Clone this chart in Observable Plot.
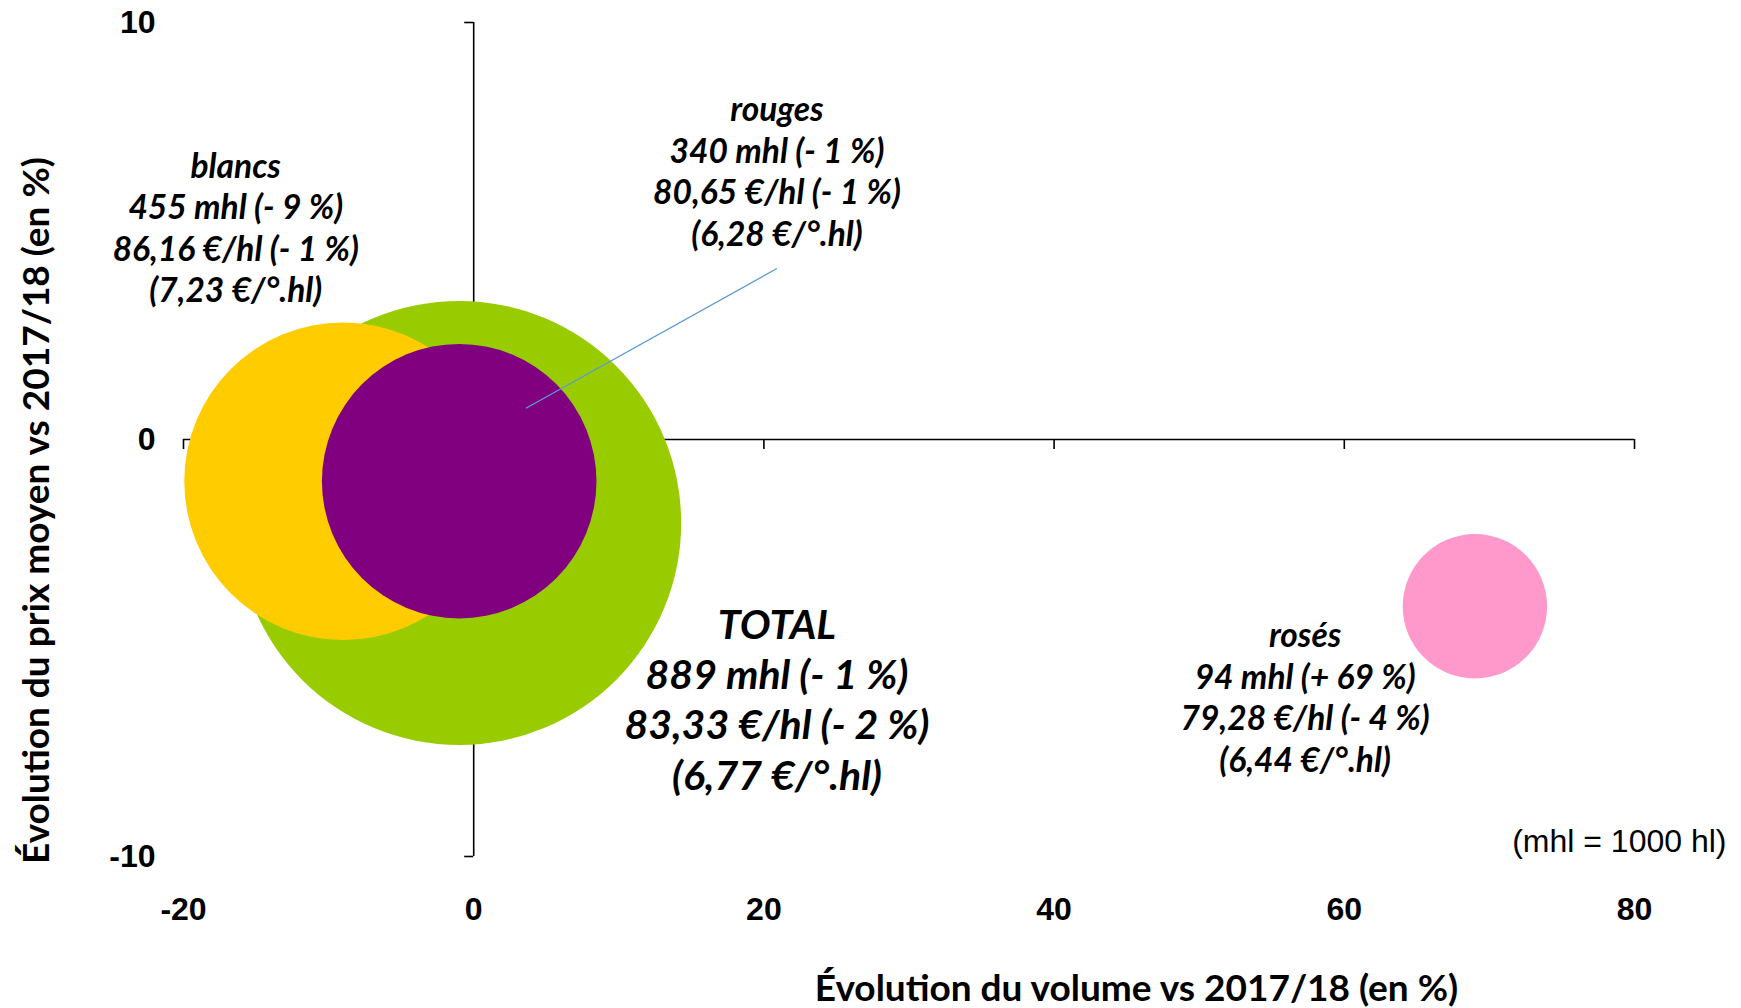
<!DOCTYPE html>
<html><head><meta charset="utf-8">
<script src="https://cdn.jsdelivr.net/npm/d3@7"></script>
<script src="https://cdn.jsdelivr.net/npm/@observablehq/plot@0.6"></script>
<style>
body{margin:0;background:#fff}
#chart{width:1741px;height:1008px}
</style>
</head><body><div id="chart"></div>
<script>
// ---- data ----
const categories   = ["TOTAL", "blancs", "rouges", "rosés"];
const volumeChange = [-1, -9, -1, 69];      // % volume vs 2017/18
const priceChange  = [-2, -1, -1, -4];      // % prix moyen vs 2017/18
const volumeMhl    = [889, 455, 340, 94];   // mhl
const pricePerHl   = ["83,33", "86,16", "80,65", "79,28"];
const pricePerDeg  = ["6,77", "7,23", "6,28", "6,44"];
const volumeLabel  = ["- 1 %", "- 9 %", "- 1 %", "+ 69 %"];
const priceLabel   = ["- 2 %", "- 1 %", "- 1 %", "- 4 %"];
const colors       = ["#99CC00", "#FFCC00", "#800080", "#FF99CC"];
const xTicks = [-20, 0, 20, 40, 60, 80];
const yTicks = [-10, 0, 10];

// annotation anchors (data units)
const labelX = [20.9, -16.4, 20.9, 57.3];
const labelY = [-6.2, 5.1, 6.46, -6.16];
const leaderX = [20.9, 3.6];
const leaderY = [4.1, 0.75];

// ---- layout ----
const W = 1741, H = 1008;
const mL = 183, mR = 107, mT = 22, mB = 152;
const xDom = [-20, 80], yDom = [-10, 10];
const xs = d3.scaleLinear(xDom, [mL, W - mR]);
const ys = d3.scaleLinear(yDom, [H - mB, mT]);
const x0px = xs(0), y0px = ys(0);

const rows = categories.map((c, i) => ({
  cat: c, x: volumeChange[i], y: priceChange[i], vol: volumeMhl[i], color: colors[i],
  text: `${c}\n${volumeMhl[i]} mhl (${volumeLabel[i]})\n${pricePerHl[i]} €/hl (${priceLabel[i]})\n(${pricePerDeg[i]} €/°.hl)`,
  lx: labelX[i], ly: labelY[i], big: c === "TOTAL"
}));

const calib = "Lato, 'Open Sans', sans-serif";
const arial = "'Liberation Sans', Arial, sans-serif";
const fmt = d => String(d);

const plot = Plot.plot({
  width: W, height: H,
  marginLeft: mL, marginRight: mR, marginTop: mT, marginBottom: mB,
  x: {domain: xDom, axis: null},
  y: {domain: yDom, axis: null},
  r: {domain: [0, 889], range: [0, 222]},
  style: {background: "#fff", color: "#000"},
  marks: [
    // axis lines crossing at 0
    Plot.ruleY([0], {x1: xDom[0], x2: xDom[1], stroke: "#000", strokeWidth: 1.6}),
    Plot.ruleX([0], {y1: yDom[0], y2: yDom[1], stroke: "#000", strokeWidth: 1.6}),
    // tick marks on the crossing axes
    Plot.axisX({ticks: xTicks, anchor: "bottom", tickSize: 10, tickFormat: () => "", label: null,
      stroke: "#000", strokeWidth: 1.6, dy: y0px - (H - mB)}),
    Plot.axisY({ticks: yTicks, anchor: "left", tickSize: 9, tickFormat: () => "", label: null,
      stroke: "#000", strokeWidth: 1.6, dx: x0px - mL}),
    // tick labels at the frame edges
    Plot.axisX({ticks: xTicks, anchor: "bottom", tickSize: 0, tickPadding: 41, label: null, tickFormat: fmt,
      fontSize: 32, fontWeight: "bold", fontFamily: arial, fill: "#000"}),
    Plot.axisY({ticks: yTicks, anchor: "left", tickSize: 0, tickPadding: 28, label: null, tickFormat: fmt,
      fontSize: 32, fontWeight: "bold", fontFamily: arial, fill: "#000"}),
    // bubbles
    Plot.dot(rows, {x: "x", y: "y", r: "vol", fill: "color", stroke: "none", fillOpacity: 1}),
    // leader line for rouges
    Plot.link([0], {x1: () => leaderX[0], y1: () => leaderY[0], x2: () => leaderX[1], y2: () => leaderY[1],
      stroke: "#5B9BD5", strokeWidth: 1.3}),
    // annotations
    Plot.text(rows.filter(d => !d.big), {x: "lx", y: "ly", text: "text", lineAnchor: "middle",
      lineHeight: 1.24, fontSize: 33.5, fontWeight: "bold", fontStyle: "italic", fontFamily: calib, fill: "#000"}),
    Plot.text(rows.filter(d => d.big), {x: "lx", y: "ly", text: "text", lineAnchor: "middle",
      lineHeight: 1.23, fontSize: 41, fontWeight: "bold", fontStyle: "italic", fontFamily: calib, fill: "#000"}),
    // axis titles
    Plot.text(["Évolution du volume vs 2017/18 (en %)"], {frameAnchor: "bottom", textAnchor: "middle",
      dx: 1136 - (mL + W - mR) / 2, dy: 133, lineAnchor: "middle", fontSize: 37, fontWeight: "bold",
      fontFamily: calib, fill: "#000"}),
    Plot.text(["Évolution du prix moyen vs 2017/18 (en %)"], {frameAnchor: "left", textAnchor: "middle",
      rotate: -90, dx: 37 - mL, dy: 510 - (mT + H - mB) / 2, lineAnchor: "middle", fontSize: 37,
      fontWeight: "bold", fontFamily: calib, fill: "#000"}),
    Plot.text(["(mhl = 1000 hl)"], {frameAnchor: "bottom-right", textAnchor: "end", lineAnchor: "middle",
      dx: 92, dy: -15, fontSize: 32, fontFamily: arial, fill: "#000"})
  ]
});
document.getElementById("chart").appendChild(plot);
</script>
</body></html>
